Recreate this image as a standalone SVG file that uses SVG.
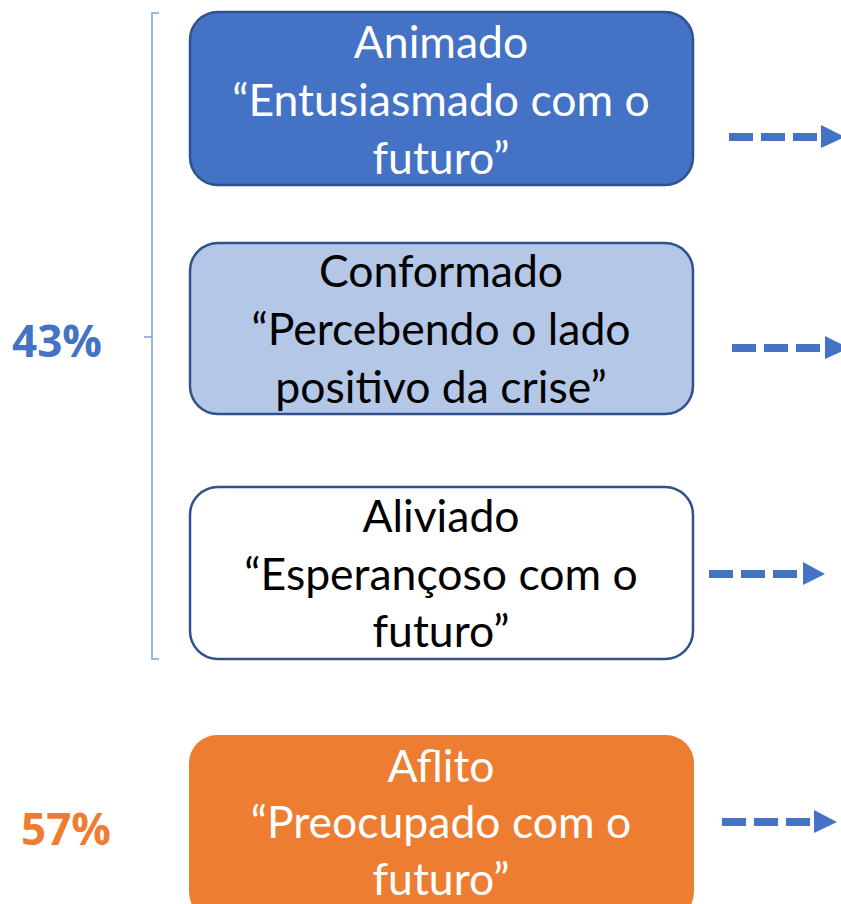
<svg xmlns="http://www.w3.org/2000/svg" width="841" height="904" viewBox="0 0 841 904">
<defs>
<style>
.box{stroke:#2F528F;stroke-width:2.5}
.t{font-family:Lato,"Open Sans","Liberation Sans",sans-serif;font-size:44.5px;text-anchor:middle}
.w{fill:#ffffff}
.k{fill:#000000}
.pct{font-family:"Open Sans",Lato,"Liberation Sans",sans-serif;font-size:44px;font-weight:bold}
.dash{stroke:#4472C4;stroke-width:8;stroke-dasharray:24 8;fill:none}
.head{fill:#4472C4}
.br{stroke:#7A9ED8;stroke-width:1.5;fill:none}
</style>
</defs>
<rect width="841" height="904" fill="#ffffff"/>
<g id="bracket">
<path class="br" d="M159,13 H152 V659 H159 M152,337 H144"/>
</g>
<g id="pct43"><text class="pct" x="12" y="357" fill="#4472C4">43%</text></g>
<g id="pct57"><text class="pct" x="21" y="845" fill="#ED7D31">57%</text></g>
<g id="animado">
<rect class="box" x="190" y="12" width="503" height="173" rx="28" fill="#4472C4"/>
<text class="t w" x="441" y="58">Animado</text>
<text class="t w" x="441" y="116">“Entusiasmado com o</text>
<text class="t w" x="441" y="174">futuro”</text>
</g>
<g id="conformado">
<rect class="box" x="190" y="243" width="503" height="171" rx="28" fill="#B4C7E7"/>
<text class="t k" x="441" y="287">Conformado</text>
<text class="t k" x="441" y="345">“Percebendo o lado</text>
<text class="t k" x="441" y="403">positivo da crise”</text>
</g>
<g id="aliviado">
<rect class="box" x="190" y="487" width="503" height="172" rx="28" fill="#ffffff"/>
<text class="t k" x="441" y="532">Aliviado</text>
<text class="t k" x="441" y="590">“Esperançoso com o</text>
<text class="t k" x="441" y="647">futuro”</text>
</g>
<g id="aflito">
<rect x="189" y="735" width="505" height="185" rx="28" fill="#ED7D31"/>
<text class="t w" x="441" y="782">Aflito</text>
<text class="t w" x="441" y="838">“Preocupado com o</text>
<text class="t w" x="441" y="895">futuro”</text>
</g>
<g id="connectors">
<path class="dash" d="M729,137 H817"/>
<polygon class="head" points="821,125 845,137 821,148"/>
<path class="dash" d="M732,348 H820"/>
<polygon class="head" points="825,336 849,348 825,359"/>
<path class="dash" d="M709,574 H797"/>
<polygon class="head" points="803,562 825,574 803,585"/>
<path class="dash" d="M722,822 H810"/>
<polygon class="head" points="814,810 837,822 814,833"/>
</g>
</svg>
